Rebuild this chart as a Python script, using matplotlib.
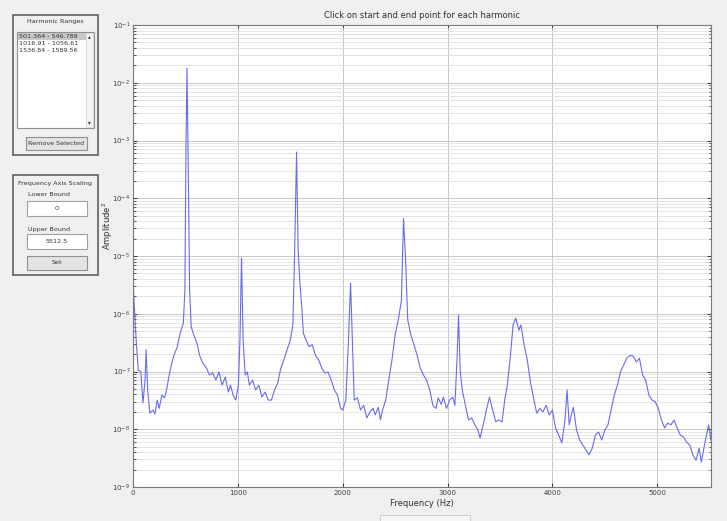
import numpy as np
import matplotlib.pyplot as plt
from matplotlib.patches import Rectangle
from matplotlib.ticker import LogLocator, FixedLocator

freq = [0, 10, 30, 50, 75, 95, 115, 125, 140, 160, 190, 210, 230, 250, 275, 300, 320, 345,
        370, 390, 420, 450, 480, 495, 505, 515, 525, 540, 555, 580, 610, 635, 665, 700,
        730, 760, 790, 820, 850, 880, 910, 930, 955, 980, 1005, 1020, 1035, 1050, 1070,
        1090, 1110, 1140, 1170, 1200, 1230, 1260, 1290, 1320, 1350, 1380, 1410, 1440,
        1470, 1500, 1525, 1540, 1560, 1575, 1590, 1605, 1625, 1650, 1680, 1710, 1740,
        1770, 1800, 1830, 1860, 1890, 1920, 1950, 1980, 2000, 2030, 2055, 2075, 2095,
        2110, 2140, 2170, 2200, 2230, 2260, 2290, 2310, 2340, 2360, 2380, 2410, 2440,
        2470, 2500, 2530, 2560, 2580, 2600, 2620, 2650, 2680, 2710, 2740, 2770, 2800,
        2830, 2860, 2890, 2910, 2940, 2960, 2990, 3020, 3050, 3070, 3090, 3105, 3120,
        3140, 3170, 3200, 3230, 3260, 3290, 3310, 3340, 3370, 3400, 3430, 3460, 3490,
        3520, 3545, 3570, 3600, 3625, 3650, 3680, 3700, 3730, 3760, 3790, 3820, 3850,
        3880, 3910, 3940, 3970, 4000, 4030, 4060, 4090, 4120, 4140, 4160, 4180, 4200,
        4230, 4260, 4290, 4320, 4350, 4380, 4410, 4440, 4470, 4500, 4530, 4560, 4590,
        4620, 4650, 4680, 4710, 4740, 4770, 4800, 4830, 4860, 4890, 4920, 4950, 4980,
        5010, 5040, 5070, 5100, 5130, 5160, 5190, 5220, 5250, 5280, 5310, 5340, 5370,
        5400, 5420, 5450, 5470, 5490, 5512.5]
amp = [4.2e-6, 1.7e-6, 3.5e-7, 1.06e-7, 9.8e-8, 2.85e-8, 7.1e-8, 2.4e-7, 4.8e-8, 1.9e-8,
       2.15e-8, 1.84e-8, 3.2e-8, 2.3e-8, 3.9e-8, 3.5e-8, 4.8e-8, 8.7e-8,
       1.4e-7, 1.9e-7, 2.6e-7, 4.6e-7, 6.9e-7, 2.6e-6, 6.8e-4, 1.8e-2, 6.8e-4, 2.6e-6,
       5.9e-7, 4.3e-7, 3.1e-7, 1.9e-7, 1.4e-7, 1.15e-7,
       8.7e-8, 9.4e-8, 7.1e-8, 9.8e-8, 5.8e-8, 8.0e-8, 4.4e-8, 5.8e-8, 3.9e-8, 3.2e-8,
       5.8e-8, 3.5e-7, 9.2e-6, 3.5e-7, 8.7e-8,
       9.8e-8, 5.8e-8, 7.1e-8, 4.8e-8, 5.8e-8, 3.6e-8, 4.4e-8, 3.2e-8, 3.2e-8, 4.8e-8,
       6.3e-8, 1.15e-7, 1.6e-7,
       2.4e-7, 3.5e-7, 6.4e-7, 8.5e-6, 6.3e-4, 1.27e-5, 3.8e-6, 1.7e-6, 4.6e-7, 3.5e-7,
       2.7e-7, 2.9e-7, 1.9e-7,
       1.6e-7, 1.15e-7, 9.4e-8, 9.8e-8, 7.1e-8, 4.8e-8, 3.9e-8, 2.3e-8, 2.15e-8, 3.2e-8,
       3.5e-7, 3.4e-6, 2.4e-7,
       3.2e-8, 3.5e-8, 2.15e-8, 2.6e-8, 1.57e-8, 2.0e-8, 2.3e-8, 1.77e-8, 2.4e-8, 1.45e-8,
       2.15e-8, 3.2e-8, 7.1e-8,
       1.6e-7, 4.3e-7, 7.8e-7, 1.7e-6, 4.5e-5, 8.5e-6, 7.8e-7, 4.3e-7, 2.9e-7, 1.9e-7,
       1.15e-7, 8.7e-8, 7.1e-8,
       4.8e-8, 2.6e-8, 2.3e-8, 3.5e-8, 2.7e-8, 3.6e-8, 2.3e-8, 3.2e-8, 3.6e-8, 2.6e-8,
       1.6e-7, 9.5e-7, 1.06e-7,
       4.8e-8, 2.6e-8, 1.45e-8, 1.57e-8, 1.19e-8, 9.7e-9, 7.0e-9, 1.19e-8, 2.15e-8,
       3.6e-8, 2.15e-8, 1.34e-8, 1.45e-8,
       1.34e-8, 3.2e-8, 5.8e-8, 1.9e-7, 6.4e-7, 8.4e-7, 5.2e-7, 6.4e-7, 2.9e-7, 1.6e-7,
       6.6e-8, 3.5e-8, 1.9e-8,
       2.3e-8, 2.0e-8, 2.6e-8, 1.77e-8, 2.15e-8, 1.05e-8, 7.9e-9, 5.8e-9, 1.45e-8, 4.8e-8,
       1.19e-8, 1.77e-8, 2.4e-8,
       9.7e-9, 6.5e-9, 5.3e-9, 4.4e-9, 3.6e-9, 4.7e-9, 7.9e-9, 9.0e-9, 6.5e-9, 9.7e-9,
       1.19e-8, 2.15e-8, 3.9e-8,
       5.8e-8, 1.0e-7, 1.3e-7, 1.7e-7, 1.9e-7, 1.85e-7, 1.46e-7, 1.7e-7, 8.7e-8, 7.1e-8,
       3.9e-8, 3.2e-8, 3.0e-8,
       2.3e-8, 1.45e-8, 1.05e-8, 1.28e-8, 1.19e-8, 1.45e-8, 1.05e-8, 7.9e-9, 7.3e-9,
       6.0e-9, 5.3e-9, 3.6e-9, 2.9e-9,
       4.7e-9, 2.7e-9, 5.3e-9, 7.9e-9, 1.19e-8, 6.5e-9]

ranges = ["501.364 - 546.789", "1016.91 - 1056.61", "1536.84 - 1589.56"]
y_exponents = list(range(-9, 0))

W, H = 727, 521
BG = "#f0f0f0"

fig = plt.figure(figsize=(W / 100, H / 100), dpi=100, facecolor=BG)


def fx(x):
    return x / W


def fy(y):
    return 1 - y / H


def box(x0, y0, x1, y1, fc="white", ec="#a0a0a0", lw=0.8):
    fig.patches.append(Rectangle((fx(x0), fy(y1)), fx(x1) - fx(x0), fy(y0) - fy(y1),
                                 transform=fig.transFigure, fc=fc, ec=ec, lw=lw))


def label(x, y, s, size=4.6, ha="center", color="#333333"):
    fig.text(fx(x), fy(y), s, ha=ha, va="center", fontsize=size, color=color)


# harmonic ranges panel
box(13, 15, 98, 155, fc=BG, ec="#606060", lw=1.2)
label(55, 22, "Harmonic Ranges")
box(17, 32, 94, 128, ec="#909090")
box(18, 33, 86, 40, fc="#c8c8c8", ec="none", lw=0)
for i, s in enumerate(ranges):
    label(19, 36.5 + i * 7, s, ha="left")
box(86, 33, 93, 127, fc="#f4f4f4", ec="#d0d0d0", lw=0.5)
label(89.5, 37, "\u25b4", size=4)
label(89.5, 123, "\u25be", size=4)
box(26, 137, 87, 150, fc="#e4e4e4", ec="#909090")
label(56.5, 143.5, "Remove Selected")

# frequency axis scaling panel
box(13, 175, 98, 275, fc=BG, ec="#606060", lw=1.2)
label(55, 183, "Frequency Axis Scaling")
label(28, 195, "Lower Bound", ha="left")
box(27, 201, 87, 216)
label(57, 208.5, "0")
label(28, 229, "Upper Bound", ha="left")
box(27, 234, 87, 249)
label(57, 241.5, "5512.5")
box(27, 256, 87, 270, fc="#e4e4e4", ec="#909090")
label(57, 263, "Set")

# stub of a control below the plot
box(380, 515, 470, 530, fc="#f6f6f6", ec="#c8c8c8", lw=0.6)

ax = fig.add_axes([fx(133), fy(487), fx(711) - fx(133), fy(25) - fy(487)])
ax.set_facecolor("white")
ax.semilogy(freq, amp, color="#6a6af2", lw=0.8)
ax.set_xlim(0, 5512.5)
ax.set_ylim(10.0 ** y_exponents[0], 10.0 ** y_exponents[-1])
ax.set_xticks([0, 1000, 2000, 3000, 4000, 5000])
ax.yaxis.set_major_locator(FixedLocator([10.0 ** e for e in y_exponents]))
ax.yaxis.set_minor_locator(LogLocator(base=10, subs=np.arange(2, 10), numticks=50))
ax.set_yticklabels([r"$10^{%d}$" % e for e in y_exponents])
ax.grid(True, which="major", color="#c8c8c8", lw=0.7)
ax.grid(True, which="minor", axis="y", color="#e0e0e0", lw=0.6)
ax.tick_params(which="both", direction="in", top=True, right=True, labelsize=5,
               colors="#404040", length=3, pad=2)
ax.tick_params(which="minor", length=1.8)
for sp in ax.spines.values():
    sp.set_color("#7a7a7a")
    sp.set_linewidth(0.8)

ax.set_title("Click on start and end point for each harmonic", fontsize=6, color="#303030", pad=5)
ax.set_xlabel("Frequency (Hz)", fontsize=6, color="#303030", labelpad=2)
ax.set_ylabel("Amplitude$^2$", fontsize=6, color="#303030")
ax.yaxis.set_label_coords(-0.031, 0.565)

fig.savefig("out.png", dpi=100, facecolor=BG)
